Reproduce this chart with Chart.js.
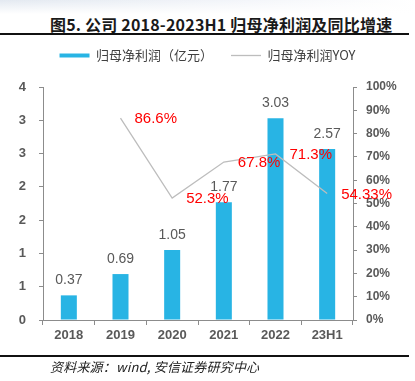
<!DOCTYPE html>
<html>
<head>
<meta charset="utf-8">
<script src="https://cdn.jsdelivr.net/npm/chart.js@4.4.1/dist/chart.umd.min.js"></script>
<style>
    html, body { margin: 0; padding: 0; background: #fff; }
    #wrap { position: relative; width: 415px; height: 381px; overflow: hidden; }
    #topShade { position: absolute; left: 0; top: 0; width: 415px; height: 14px;
        background: linear-gradient(to bottom, rgba(255,255,255,0), #fff), linear-gradient(to right, #e3e9f1, #f4f6fa 60%, #fff); }
    #chartTitle { position: absolute; left: 50px; top: 12px; font: bold 16px "Noto Sans CJK SC", sans-serif; color: #1a1a1a; white-space: nowrap; letter-spacing: 0.2px; }
    #titleRule { position: absolute; left: 0; top: 33px; width: 409px; height: 1.5px; background: #111; }
    #footRule { position: absolute; left: 0; top: 355px; width: 409px; height: 1.5px; background: #111; }
    #source { position: absolute; left: 50px; top: 357px; font: italic 13px "Noto Sans CJK SC", sans-serif; color: #222; white-space: nowrap; letter-spacing: 0.2px; }
    canvas { position: absolute; left: 0; top: 0; }
</style>
</head>
<body>
<div id="wrap">
    <div id="topShade"></div>
    <div id="chartTitle">图5. 公司 2018-2023H1 归母净利润及同比增速</div>
    <div id="titleRule"></div>
    <canvas id="profitChart" width="415" height="381"></canvas>
    <div id="footRule"></div>
    <div id="source">资料来源：wind, 安信证券研究中心</div>
</div>
<script>
"use strict";

const categories = ["2018", "2019", "2020", "2021", "2022", "23H1"];
const profitValues = [0.37, 0.69, 1.05, 1.77, 3.03, 2.57];
const profitLabels = ["0.37", "0.69", "1.05", "1.77", "3.03", "2.57"];
const yoyValues = [null, 86.6, 52.3, 67.8, 71.3, 54.33];
const yoyLabels = ["", "86.6%", "52.3%", "67.8%", "71.3%", "54.33%"];
const leftTickLabels = ["0", "1", "1", "2", "2", "3", "3", "4"];

const BAR_BLUE = "#28B4E4";
const AXIS_GREY = "#8c8c8c";
const TEXT_GREY = "#595959";

/* --- value labels drawn from the element positions --- */
const valueLabels = {
    id: "valueLabels",
    afterDatasetsDraw(chart) {
        const ctx = chart.ctx;
        ctx.save();
        ctx.textBaseline = "middle";

        const bars = chart.getDatasetMeta(0).data;
        ctx.font = "14px 'Liberation Sans', Arial, sans-serif";
        ctx.fillStyle = TEXT_GREY;
        ctx.textAlign = "center";
        bars.forEach((bar, i) => ctx.fillText(profitLabels[i], bar.x, bar.y - 15));

        const points = chart.getDatasetMeta(1).data;
        ctx.font = "15px 'Liberation Sans', Arial, sans-serif";
        ctx.fillStyle = "#ff0000";
        ctx.textAlign = "left";
        points.forEach((pt, i) => {
            if (yoyValues[i] === null) return;
            ctx.fillText(yoyLabels[i], pt.x + 14, pt.y + 1);
        });
        ctx.restore();
    }
};

// extra room between legend and plot
const legendGap = {
    id: "legendGap",
    beforeInit(chart) {
        const fit = chart.legend.fit;
        chart.legend.fit = function () {
            fit.bind(chart.legend)();
            this.height += 15;
        };
    }
};

new Chart(document.getElementById("profitChart"), {
    data: {
        labels: categories,
        datasets: [{
            type: "bar",
            label: "归母净利润（亿元）",
            data: profitValues,
            backgroundColor: BAR_BLUE,
            borderWidth: 0,
            pointStyle: "rect",
            barPercentage: 0.62,
            categoryPercentage: 0.5,
            yAxisID: "yLeft",
            order: 2
        }, {
            type: "line",
            label: "归母净利润YOY",
            data: yoyValues,
            borderColor: "#bdbdbd",
            backgroundColor: "#bdbdbd",
            borderWidth: 1.3,
            pointRadius: 0,
            pointStyle: "line",
            tension: 0,
            yAxisID: "yRight",
            order: 1
        }]
    },
    options: {
        responsive: false,
        animation: false,
        layout: { padding: { top: 31, left: 0, right: 0, bottom: 36 } },
        plugins: {
            legend: {
                position: "top",
                labels: {
                    usePointStyle: true,
                    pointStyleWidth: 30,
                    boxHeight: 4,
                    padding: 18,
                    color: "#404040",
                    font: { family: "'Noto Sans CJK SC', sans-serif", size: 13 },
                    sort: (a, b) => a.datasetIndex - b.datasetIndex
                }
            },
            tooltip: { enabled: false }
        },
        scales: {
            x: {
                offset: true,
                grid: { display: true, drawOnChartArea: false, offset: true, tickLength: 5, color: AXIS_GREY },
                border: { display: true, color: AXIS_GREY },
                ticks: { color: TEXT_GREY, padding: 3, font: { family: "'Liberation Sans', Arial, sans-serif", size: 13, weight: "bold" } },
                afterFit: s => { s.height = 25; }
            },
            yLeft: {
                position: "left",
                min: 0,
                max: 3.5,
                ticks: {
                    stepSize: 0.5,
                    padding: 13,
                    color: TEXT_GREY,
                    font: { family: "'Liberation Sans', Arial, sans-serif", size: 13, weight: "bold" },
                    callback: (v, i) => leftTickLabels[i]
                },
                grid: { drawOnChartArea: false, tickLength: 4, color: AXIS_GREY },
                border: { display: true, color: AXIS_GREY },
                afterFit: s => { s.width = 43; }
            },
            yRight: {
                position: "right",
                min: 0,
                max: 100,
                ticks: {
                    stepSize: 10,
                    padding: 9,
                    color: TEXT_GREY,
                    font: { family: "'Liberation Sans', Arial, sans-serif", size: 12, weight: "bold" },
                    callback: v => v + "%"
                },
                grid: { drawOnChartArea: false, tickLength: 4, color: AXIS_GREY },
                border: { display: true, color: AXIS_GREY },
                afterFit: s => { s.width = 62; }
            }
        }
    },
    plugins: [valueLabels, legendGap]
});
</script>
</body>
</html>
